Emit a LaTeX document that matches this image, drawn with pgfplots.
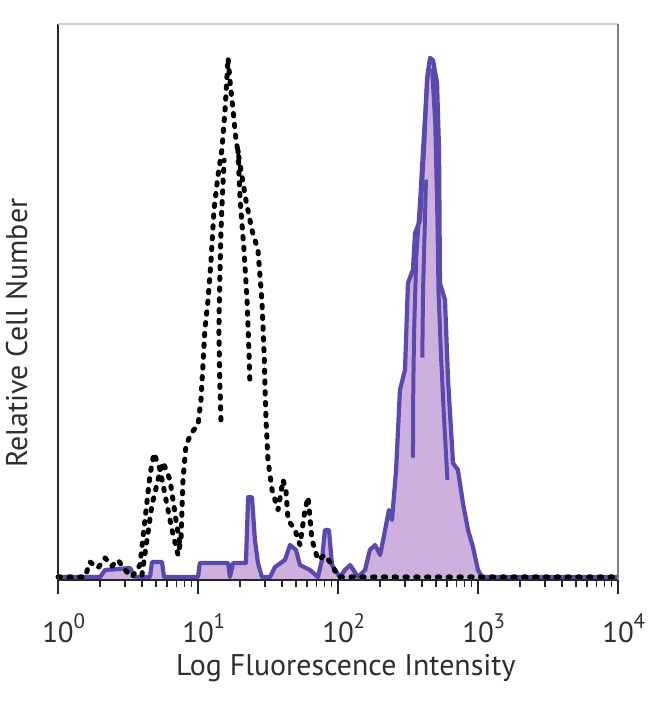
\documentclass[border=0pt]{standalone}
\usepackage{fontspec}
\setmainfont{PT Sans}
\usepackage{pgfplots}
\pgfplotsset{compat=1.18}
\definecolor{violetline}{HTML}{5A4AB0}
\definecolor{violetfill}{HTML}{CDB0DE}
\definecolor{txt}{HTML}{2E2E2E}
\newcommand{\tl}[1]{10\rlap{\raisebox{0.48em}{\fontsize{21}{21}\selectfont #1}}}
\begin{document}
\begin{tikzpicture}
\begin{axis}[
 scale only axis, width=560bp, height=556bp,
 xmode=log, xmin=1, xmax=10000, ymin=0, ymax=100,
 axis line style={draw=none},
 ytick=\empty,
 xtick pos=left,
 xtick={1,10,100,1000,10000},
 xticklabels={\tl{0},\tl{1},\tl{2},\tl{3},\tl{4}},
 tick align=outside, major tick length=14bp, minor tick length=7bp,
 every tick/.style={line width=1.6bp, draw=black!85},
 xticklabel style={font=\fontsize{29}{32}\selectfont, text=txt, yshift=-16bp},
 xlabel={Log Fluorescence Intensity},
 ylabel={Relative Cell Number},
 label style={font=\fontsize{30}{34}\selectfont, text=txt},
 xlabel style={at={(axis description cs:0.514,-0.158)}, anchor=center},
 ylabel style={at={(axis description cs:-0.074,0.444)}, anchor=center},
 clip=false,
]
% purple fill
\addplot[fill=violetfill, draw=none] coordinates {
(1,0.54)(2.0,0.54)(2.17,1.8)(3.27,2.16)(3.55,0.54)(4.54,0.54)(4.69,3.24)(5.53,3.24)(5.72,0.54)(10,0.54)(10.3,3.06)(16.4,3.06)(16.9,0.54)(17.8,3.06)(22.0,3.06)(22.8,14.9)(24.3,14.9)(25.5,7.2)(26.8,3.06)(28.6,0.54)(32.7,0.54)(35.5,2.34)(41.8,3.6)(45.4,6.3)(50.1,5.4)(53.5,2.7)(63.1,1.8)(71.9,0.54)(76.8,3.6)(80.7,9.0)(86.2,9.0)(90.6,2.7)(103,0.54)(112,1.8)(122,2.7)(139,0.54)(156,1.8)(169,5.4)(184,6.3)(200,4.5)(217,9.0)(231,12.6)(243,10.8)(260,19.8)(277,34.2)(301,37.8)(316,53.4)(343,55.8)(355,62.4)(385,64.7)(411,77.3)(432,89.9)(454,93.9)(477,93.5)(510,89.4)(527,77.3)(535,53.4)(581,50.4)(611,36.0)(663,21.0)(719,19.8)(781,13.8)(849,9.0)(921,5.9)(1000,1.8)(1069,0.54)(10000,0.54)
} \closedcycle;
% purple inner streaks (jagged channels inside the peak)
\addplot[violetline, line width=4bp, line join=round] coordinates {(343,22)(345,35)(350,45)(362,58)(385,68)(410,80)(440,92)};
\addplot[violetline, line width=4bp, line join=round] coordinates {(400,40)(405,52)(415,62)(425,72)};
\addplot[violetline, line width=4bp, line join=round] coordinates {(470,92)(495,82)(512,66)(522,52)(545,40)(575,28)(605,18)};
% purple outline
\addplot[violetline, line width=4.2bp, line join=round] coordinates {
(1,0.54)(2.0,0.54)(2.17,1.8)(3.27,2.16)(3.55,0.54)(4.54,0.54)(4.69,3.24)(5.53,3.24)(5.72,0.54)(10,0.54)(10.3,3.06)(16.4,3.06)(16.9,0.54)(17.8,3.06)(22.0,3.06)(22.8,14.9)(24.3,14.9)(25.5,7.2)(26.8,3.06)(28.6,0.54)(32.7,0.54)(35.5,2.34)(41.8,3.6)(45.4,6.3)(50.1,5.4)(53.5,2.7)(63.1,1.8)(71.9,0.54)(76.8,3.6)(80.7,9.0)(86.2,9.0)(90.6,2.7)(103,0.54)(112,1.8)(122,2.7)(139,0.54)(156,1.8)(169,5.4)(184,6.3)(200,4.5)(217,9.0)(231,12.6)(243,10.8)(260,19.8)(277,34.2)(301,37.8)(316,53.4)(343,55.8)(355,62.4)(385,64.7)(411,77.3)(432,89.9)(454,93.9)(477,93.5)(510,89.4)(527,77.3)(535,53.4)(581,50.4)(611,36.0)(663,21.0)(719,19.8)(781,13.8)(849,9.0)(921,5.9)(1000,1.8)(1069,0.54)(10000,0.54)
};
% black dotted control
\pgfplotsset{ctrl/.style={black, line width=5bp, line cap=round, line join=round, dash pattern=on 2.4bp off 8.4bp}}
\addplot[ctrl] coordinates {
(1,0.54)(1.56,0.54)(1.69,3.24)(1.93,2.16)(2.17,3.96)(2.43,2.52)(2.68,3.6)(3.01,1.8)(3.38,0.54)(3.85,2.7)(4.18,10.8)(4.54,18.9)(4.85,22.8)(5.36,19.8)(5.91,14.4)(6.52,9.0)(7.20,4.5)(7.56,7.2)(7.81,18.0)(8.21,24.3)(9.06,26.6)(10,27.9)(10.5,32.4)(10.9,39.6)(11.2,45.0)(11.8,50.4)(12.4,57.6)(13.0,66.5)(13.9,72.8)(14.8,77.3)(15.6,84.5)(16.4,93.9)(16.9,89.9)(17.8,84.5)(18.7,79.1)(20.0,74.6)(22.0,68.3)(24.3,62.9)(26.8,59.4)(28.6,50.4)(29.6,41.4)(30.1,35)(30.6,28.8)(31.6,21.6)(33.8,16.2)(37.3,12.6)(40.5,18)(42.5,16)(44,10.8)(49.3,9)(53.5,6.3)(58.1,12.6)(61.1,14.9)(65.2,7.2)(71.9,3.6)(80.7,4.5)(90.6,2.7)(100,0.54)(10000,0.54)
};
\addplot[ctrl] coordinates {(14.6,28.8)(14.3,36.0)(14.1,45.0)(14.3,54)(14.6,62.9)(15.0,70.1)(15.4,75.5)};
\addplot[ctrl] coordinates {(19.3,77.3)(20.0,68.3)(21.3,59.4)(22.4,50.4)(23.1,41.4)(23.5,35.1)};
\addplot[ctrl] coordinates {(3.98,0.9)(4.32,7.2)(4.69,13.5)(5.18,18)(5.62,21.2)(6.31,18)(6.96,10.8)(7.44,6.3)};
% frame
\draw[line width=2.6bp, black!85] (rel axis cs:0,1) -- (rel axis cs:0,0) -- (rel axis cs:1,0);
\draw[line width=2bp, black!20] (rel axis cs:0,1) -- (rel axis cs:1,1);
\draw[line width=2.6bp, black!50] (rel axis cs:1,1) -- (rel axis cs:1,0);
\end{axis}
\path[use as bounding box] ([shift={(-58bp,-124bp)}]current axis.south west) rectangle ([shift={(32bp,24bp)}]current axis.north east);
\end{tikzpicture}
\end{document}
